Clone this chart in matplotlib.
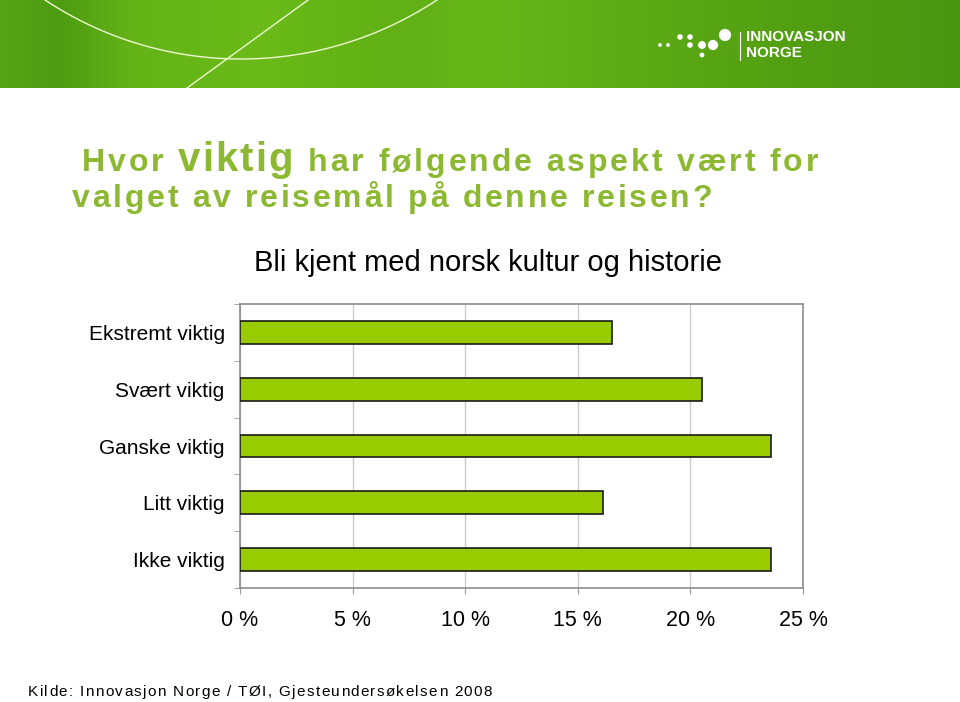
import numpy as np
import matplotlib
matplotlib.use("Agg")
import matplotlib.pyplot as plt
from matplotlib.colors import LinearSegmentedColormap
from matplotlib.font_manager import findfont, FontProperties
from matplotlib.ft2font import FT2Font

# Data
kategorier = ["Ekstremt viktig", "Svært viktig", "Ganske viktig", "Litt viktig", "Ikke viktig"]
andeler = [16.5, 20.5, 23.6, 16.1, 23.6]
x_ticks = [0, 5, 10, 15, 20, 25]
x_tick_labels = ["0 %", "5 %", "10 %", "15 %", "20 %", "25 %"]

tittel_deler = ["Hvor", "viktig", "har følgende aspekt vært for"]
tittel_linje2 = "valget av reisemål på denne reisen?"
diagram_tittel = "Bli kjent med norsk kultur og historie"
kilde = "Kilde: Innovasjon Norge / TØI, Gjesteundersøkelsen 2008"

W, H, DPI = 960, 702, 100
FONT = "Liberation Sans"
TITLE_GREEN = "#8cb832"
BAR_GREEN = "#99cc00"

plt.rcParams["font.family"] = [FONT, "DejaVu Sans"]

fig = plt.figure(figsize=(W / DPI, H / DPI), dpi=DPI)


def fx(px):
    return px / W


def fy(py):
    # py measured from top
    return 1 - py / H


def spaced_text(x0, x1, y_px, text, size, bold=False, color="black"):
    """draw text char by char, letter spacing chosen so it spans x0..x1 (pixels)"""
    prop = FontProperties(family=FONT, weight="bold" if bold else "normal")
    font = FT2Font(findfont(prop))
    font.set_size(size, DPI)
    advs = [font.load_char(ord(c)).linearHoriAdvance / 65536 for c in text]
    spacing = (x1 - x0 - sum(advs)) / max(len(text) - 1, 1)
    x = x0
    for c, adv in zip(text, advs):
        if c != " ":
            fig.text(fx(x), fy(y_px), c, fontsize=size, color=color,
                     fontweight="bold" if bold else "normal", ha="left", va="baseline")
        x += adv + spacing


# Banner
ax_b = fig.add_axes([0, fy(88), 1, 88 / H])
stops = [(0, "#55a415"), (0.06, "#4e9c12"), (0.14, "#64b418"), (0.27, "#6aba18"),
         (0.42, "#60b016"), (0.5, "#68b71a"), (0.63, "#5ead16"), (0.83, "#529f12"),
         (1.0, "#4a9612")]
cmap = LinearSegmentedColormap.from_list("banner", stops)
grad = np.tile(np.linspace(0, 1, 480), (44, 1))
ax_b.imshow(grad, cmap=cmap, aspect="auto", extent=(0, W, 88, 0))
# white curves
t = np.linspace(0, np.pi, 400)
cx, cy, r = 241, -296, 355
ax_b.plot(cx + r * np.cos(t), cy + r * np.sin(t), color="#eef8d0", lw=1.0)
ax_b.plot([308, 187], [0, 88], color="#eef8d0", lw=1.0)
# logo
dots_x = [660, 668, 680, 690, 690, 702, 713, 725, 702]
dots_y = [45, 45, 37, 37, 45, 45, 45, 35, 55]
dots_s = [3, 3, 9, 9, 9, 22, 40, 60, 6]
ax_b.scatter(dots_x, dots_y, s=dots_s, color="white", zorder=3)
ax_b.plot([740, 740], [32, 60], color="white", lw=0.8)
ax_b.text(746, 37, "INNOVASJON", color="white", fontsize=11, fontweight="bold",
          va="center", ha="left")
ax_b.text(746, 53, "NORGE", color="white", fontsize=11, fontweight="bold",
          va="center", ha="left")
ax_b.set_xlim(0, W)
ax_b.set_ylim(88, 0)
ax_b.axis("off")

# Title
spaced_text(82, 163, 171, tittel_deler[0], 23, bold=True, color=TITLE_GREEN)
spaced_text(178, 293, 171, tittel_deler[1], 29, bold=True, color=TITLE_GREEN)
spaced_text(308, 818, 171, tittel_deler[2], 23, bold=True, color=TITLE_GREEN)
spaced_text(72, 712, 207, tittel_linje2, 23, bold=True, color=TITLE_GREEN)

fig.text(fx(488), fy(263), diagram_tittel, fontsize=21, ha="center", va="center")

# Chart
ax = fig.add_axes([fx(240), fy(588), (803 - 240) / W, (588 - 304) / H])
y = np.arange(len(kategorier))
ax.barh(y, andeler, height=0.4, color=BAR_GREEN, edgecolor="#1a1a1a", linewidth=1.2, zorder=3)
ax.set_xlim(0, 25)
ax.set_ylim(len(kategorier) - 0.5, -0.5)

ax.set_xticks(x_ticks)
ax.set_xticklabels(x_tick_labels, fontsize=15.5)
ax.set_yticks(y)
ax.set_yticklabels(kategorier, fontsize=15)
ax.set_yticks(np.arange(len(kategorier) + 1) - 0.5, minor=True)
ax.tick_params(axis="y", which="major", length=0, pad=11)
ax.tick_params(axis="y", which="minor", length=4, color="#999999", direction="out")
ax.tick_params(axis="x", which="major", length=4, color="#999999", direction="out", pad=12)

ax.grid(axis="x", color="#cccccc", linewidth=1.0, zorder=0)
for side in ["left", "bottom", "right", "top"]:
    ax.spines[side].set_color("#8c8c8c")
    ax.spines[side].set_linewidth(1.2)

# Source
spaced_text(28, 492, 696, kilde, 11, color="black")

fig.savefig("out.png", dpi=DPI)
